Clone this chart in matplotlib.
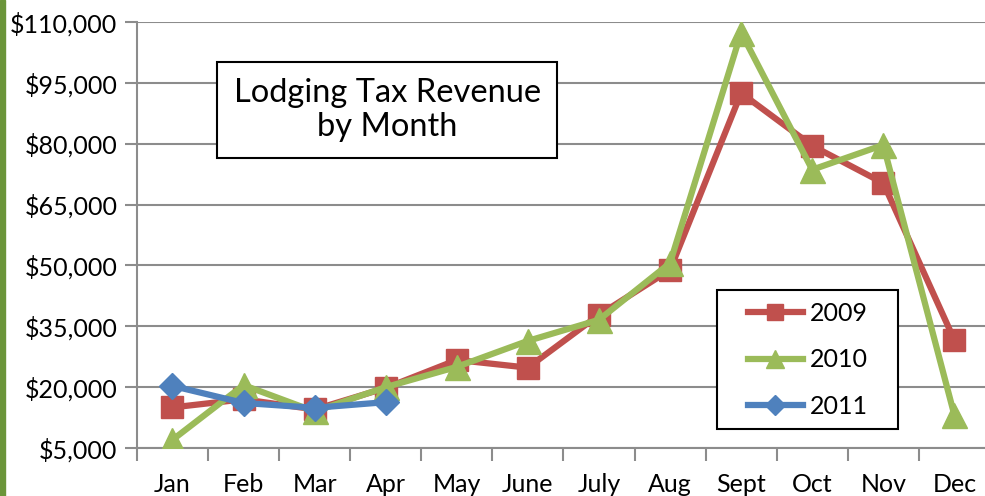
import matplotlib.pyplot as plt
from matplotlib.ticker import FuncFormatter
from matplotlib.patches import Rectangle

# ---------------------
# Data
# ---------------------
months = ["Jan", "Feb", "Mar", "Apr", "May", "June", "July", "Aug",
          "Sept", "Oct", "Nov", "Dec"]
rev_2009 = [15000, 17000, 14500, 19800, 26700, 24800, 37800, 48900,
            92500, 79500, 70300, 31600]
rev_2010 = [7000, 20500, 14000, 20000, 25000, 31400, 36600, 50600,
            107400, 73600, 79700, 13100]
rev_2011 = [20300, 16100, 14900, 16300]

# ---------------------
# Figure
# ---------------------
plt.rcParams['font.family'] = ['Lato', 'DejaVu Sans']

fig = plt.figure(figsize=(9.85, 4.96), dpi=100)
ax = fig.add_axes([0.139, 0.0968, 0.866, 0.8588])

# green strip on the left edge
fig.patches.append(Rectangle((0, 0), 0.0055, 1, transform=fig.transFigure,
                             color="#6b953a", zorder=0))

x = list(range(len(months)))
ax.plot(x, rev_2009, color="#c0504d", lw=4.5, marker="s", ms=16,
        label="2009", zorder=3)
ax.plot(x, rev_2010, color="#9bbb59", lw=4.5, marker="^", ms=18,
        label="2010", zorder=4)
ax.plot(x[:len(rev_2011)], rev_2011, color="#4f81bd", lw=4.5, marker="D",
        ms=13, label="2011", zorder=5)

ax.set_xlim(-0.5, 11.5)
ax.set_ylim(5000, 110000)
ax.set_yticks(range(5000, 110001, 15000))
ax.yaxis.set_major_formatter(FuncFormatter(lambda v, p: f"${v:,.0f}"))
ax.set_xticks(x)
ax.set_xticklabels(months)
ax.set_xticks([i + 0.5 for i in range(-1, 12)], minor=True)

ax.grid(axis="y", color="#8c8c8c", lw=1.5)
ax.set_axisbelow(True)
for s in ["top", "right"]:
    ax.spines[s].set_visible(False)
for s in ["left", "bottom"]:
    ax.spines[s].set_color("#8c8c8c")
    ax.spines[s].set_linewidth(1.5)

ax.tick_params(axis="y", labelsize=18, length=9, width=1.5, color="#8c8c8c",
               pad=5)
ax.tick_params(axis="x", which="major", labelsize=18, length=0, pad=18)
ax.tick_params(axis="x", which="minor", length=9, width=1.5, color="#8c8c8c")

# title box
fig.text(0.393, 0.778, "Lodging Tax Revenue\nby Month", ha="center",
         va="center", fontsize=23.5, linespacing=1.15,
         bbox=dict(boxstyle="square,pad=0.5", fc="white", ec="black", lw=1.5))

# legend: frame drawn by hand so the padding can match
ax.add_patch(Rectangle((0.680, 0.0446), 0.212, 0.3264, transform=ax.transAxes,
                       fc="white", ec="black", lw=1.5, zorder=6))
leg = ax.legend(loc="center left", bbox_to_anchor=(0.716, 0.2066),
                borderaxespad=0, borderpad=0, fontsize=18, frameon=False,
                handlelength=2.2, labelspacing=0.95, handletextpad=0.3,
                markerscale=0.75)
leg.set_zorder(7)

fig.savefig("out.png", dpi=100)
